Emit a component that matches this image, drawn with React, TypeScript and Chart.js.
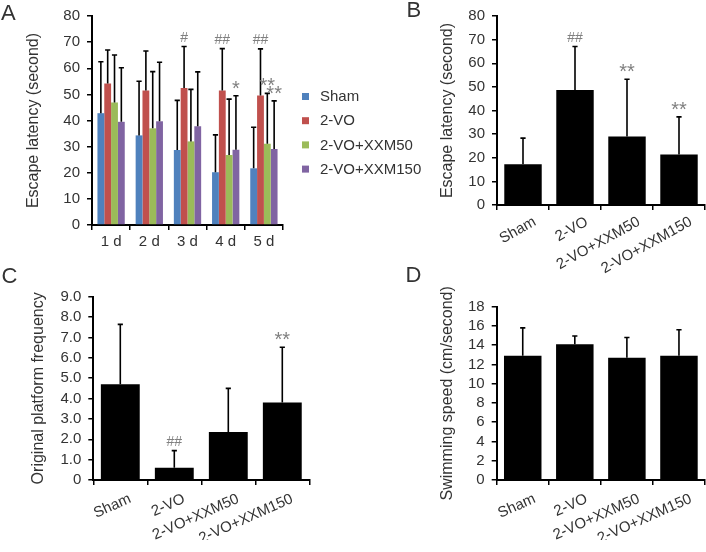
import React, { useEffect, useRef } from 'react';
import { Chart, registerables } from 'chart.js';

Chart.register(...registerables);

const FONT = '"Liberation Sans", Arial, Helvetica, sans-serif';
const TEXT = '#333333';
const MARK = '#808080';

// ---------- Panel A: escape latency per training day ----------
const dayLabels = ['1 d', '2 d', '3 d', '4 d', '5 d'];
const groupLabels = ['Sham', '2-VO', '2-VO+XXM50', '2-VO+XXM150'];
const groupColors = ['#4F81BD', '#C0504D', '#9BBB59', '#8064A2'];

const shamDaily = [42.8, 34.3, 28.7, 20.2, 21.7];
const shamDailySD = [19.7, 20.7, 19.0, 14.3, 15.7];
const twoVODaily = [54.2, 51.5, 52.4, 51.5, 49.6];
const twoVODailySD = [12.8, 15.1, 15.9, 16.0, 17.8];
const xxm50Daily = [46.9, 37.0, 32.0, 26.8, 31.1];
const xxm50DailySD = [18.2, 21.7, 19.9, 21.4, 19.3];
const xxm150Daily = [39.5, 39.7, 37.8, 28.8, 29.1];
const xxm150DailySD = [20.7, 22.6, 20.8, 20.7, 18.4];

const shamDailyMarks = ['', '', '', '', ''];
const twoVODailyMarks = ['', '', '#', '##', '##'];
const xxm50DailyMarks = ['', '', '', '', '**'];
const xxm150DailyMarks = ['', '', '', '*', '**'];

const latencyMax = 80;
const latencyStep = 10;

// ---------- Panel B: escape latency (probe) ----------
const probeLatency = [17.3, 48.7, 29.0, 21.4];
const probeLatencySD = [11.0, 18.4, 24.2, 15.9];
const probeLatencyMarks = ['', '##', '**', '**'];

// ---------- Panel C: original platform frequency ----------
const platformFreq = [4.7, 0.6, 2.36, 3.8];
const platformFreqSD = [2.94, 0.84, 2.14, 2.72];
const platformFreqMarks = ['', '##', '', '**'];
const freqMax = 9;
const freqStep = 1;

// ---------- Panel D: swimming speed ----------
const swimSpeed = [12.9, 14.1, 12.7, 12.9];
const swimSpeedSD = [2.9, 0.85, 2.1, 2.7];
const swimSpeedMarks = ['', '', '', ''];
const speedMax = 18;
const speedStep = 2;

// ---------- plugins ----------
const errorBarPlugin = {
  id: 'errorBars',
  afterDatasetsDraw(chart: any) {
    const ctx = chart.ctx;
    const yScale = chart.scales.y;
    chart.data.datasets.forEach((ds: any, di: number) => {
      const meta = chart.getDatasetMeta(di);
      if (!ds.sd) return;
      meta.data.forEach((bar: any, i: number) => {
        const v = ds.data[i];
        const top = yScale.getPixelForValue(v + ds.sd[i]);
        const x = bar.x;
        ctx.save();
        ctx.strokeStyle = '#000';
        ctx.lineWidth = 1.6;
        ctx.beginPath();
        ctx.moveTo(x, bar.y);
        ctx.lineTo(x, top);
        ctx.moveTo(x - 2.6, top);
        ctx.lineTo(x + 2.6, top);
        ctx.stroke();
        const mark = ds.marks ? ds.marks[i] : '';
        if (mark) {
          const star = mark.indexOf('*') >= 0;
          ctx.fillStyle = MARK;
          ctx.font = star ? `20px ${FONT}` : `14px ${FONT}`;
          ctx.textAlign = 'center';
          ctx.textBaseline = 'alphabetic';
          ctx.fillText(mark, x, star ? top - 1 : top - 4.5);
        }
        ctx.restore();
      });
    });
  },
};

const letterPlugin = {
  id: 'panelLetter',
  afterDraw(chart: any, _args: any, opts: any) {
    if (!opts || !opts.text) return;
    const ctx = chart.ctx;
    ctx.save();
    ctx.fillStyle = TEXT;
    ctx.font = `22px ${FONT}`;
    ctx.textAlign = 'left';
    ctx.textBaseline = 'alphabetic';
    ctx.fillText(opts.text, opts.x, opts.y);
    ctx.restore();
  },
};

const sideLegendPlugin = {
  id: 'sideLegend',
  afterDraw(chart: any) {
    const { ctx, chartArea } = chart;
    ctx.save();
    chart.data.datasets.forEach((ds: any, i: number) => {
      const cy = chartArea.top + 80.5 + i * 24.2;
      ctx.fillStyle = ds.backgroundColor;
      ctx.fillRect(chartArea.right + 19, cy - 3.5, 7, 7);
      ctx.fillStyle = TEXT;
      ctx.font = `15px ${FONT}`;
      ctx.textAlign = 'left';
      ctx.textBaseline = 'middle';
      ctx.fillText(ds.label, chartArea.right + 37, cy + 0.5);
    });
    ctx.restore();
  },
};

// ---------- axis builders ----------
function yAxis(max: number, step: number, title: string, width: number, titlePad: number, fmt?: (v: number) => string) {
  return {
    min: 0,
    max,
    ticks: {
      stepSize: step,
      autoSkip: false,
      font: { family: FONT, size: 15 },
      color: TEXT,
      padding: 7,
      ...(fmt ? { callback: (v: any) => fmt(Number(v)) } : {}),
    },
    grid: { display: true, drawOnChartArea: false, drawTicks: true, tickLength: 5, color: '#000', lineWidth: 1.5 },
    border: { display: true, color: '#000', width: 2 },
    title: { display: true, text: title, font: { family: FONT, size: 16 }, color: TEXT, padding: { top: titlePad, bottom: 0 } },
    afterFit: (s: any) => {
      s.width = width;
    },
  };
}

function xAxis(height: number, rotation: number, labelOffset: number, pad: number) {
  return {
    ticks: {
      font: { family: FONT, size: 15 },
      color: TEXT,
      padding: pad,
      autoSkip: false,
      minRotation: rotation,
      maxRotation: rotation,
      labelOffset,
    },
    grid: { display: true, drawOnChartArea: false, drawTicks: true, tickLength: 5, color: '#000', lineWidth: 1.5, offset: true },
    border: { display: true, color: '#000', width: 2 },
    afterFit: (s: any) => {
      s.height = height;
    },
  };
}

function baseOptions(padding: any, letter: any, x: any, y: any) {
  return {
    responsive: false,
    animation: false,
    devicePixelRatio: 1,
    layout: { padding },
    plugins: {
      legend: { display: false },
      tooltip: { enabled: false },
      panelLetter: letter,
    },
    scales: { x, y },
  };
}

function makeA() {
  const values = [shamDaily, twoVODaily, xxm50Daily, xxm150Daily];
  const sds = [shamDailySD, twoVODailySD, xxm50DailySD, xxm150DailySD];
  const marks = [shamDailyMarks, twoVODailyMarks, xxm50DailyMarks, xxm150DailyMarks];
  return {
    type: 'bar',
    data: {
      labels: dayLabels,
      datasets: groupLabels.map((g, k) => ({
        label: g,
        data: values[k],
        sd: sds[k],
        marks: marks[k],
        backgroundColor: groupColors[k],
        borderWidth: 0,
        categoryPercentage: 0.715,
        barPercentage: 1,
      })),
    },
    options: baseOptions(
      { left: 0, top: 13, right: 147, bottom: 10 },
      { text: 'A', x: 1, y: 20 },
      xAxis(35, 0, 0, 3),
      yAxis(latencyMax, latencyStep, 'Escape latency (second)', 92, 23.5)
    ),
    plugins: [errorBarPlugin, letterPlugin, sideLegendPlugin],
  };
}

function makeSingle(values: number[], sd: number[], marks: string[], yAx: any, xAx: any, padding: any, letter: any) {
  return {
    type: 'bar',
    data: {
      labels: groupLabels,
      datasets: [
        {
          label: 'value',
          data: values,
          sd,
          marks,
          backgroundColor: '#000000',
          borderWidth: 0,
          categoryPercentage: 0.72,
          barPercentage: 1,
        },
      ],
    },
    options: baseOptions(padding, letter, xAx, yAx),
    plugins: [errorBarPlugin, letterPlugin],
  };
}

function makeB() {
  return makeSingle(
    probeLatency,
    probeLatencySD,
    probeLatencyMarks,
    yAxis(latencyMax, latencyStep, 'Escape latency (second)', 67, 7.9),
    xAxis(70, 29, 12, 3),
    { left: 30, top: 12, right: 1, bottom: 10 },
    { text: 'B', x: 6.5, y: 17 }
  );
}

function makeC() {
  return makeSingle(
    platformFreq,
    platformFreqSD,
    platformFreqMarks,
    yAxis(freqMax, freqStep, 'Original platform frequency', 93.3, 28.9, (v) => (v === 0 ? '0' : v.toFixed(1))),
    xAxis(60, 24, 10, 5),
    { left: 0, top: 34.7, right: 90.7, bottom: 12 },
    { text: 'C', x: 1.5, y: 21 }
  );
}

function makeD() {
  return makeSingle(
    swimSpeed,
    swimSpeedSD,
    swimSpeedMarks,
    yAxis(speedMax, speedStep, 'Swimming speed (cm/second)', 66.7, 7.9),
    xAxis(60, 24, 12, 5),
    { left: 30, top: 44.7, right: 1, bottom: 12 },
    { text: 'D', x: 5.5, y: 20 }
  );
}

function Panel({ make, left, top, width, height }: { make: () => any; left: number; top: number; width: number; height: number }) {
  const ref = useRef<HTMLCanvasElement>(null);
  useEffect(() => {
    const chart = new Chart(ref.current as HTMLCanvasElement, make());
    return () => chart.destroy();
  }, []);
  return (
    <canvas
      ref={ref}
      width={width}
      height={height}
      style={{ position: 'absolute', left, top, width, height, display: 'block' }}
    />
  );
}

export default function App() {
  return (
    <div style={{ position: 'absolute', left: 0, top: 0, width: 706, height: 552, background: '#ffffff', overflow: 'hidden' }}>
      <Panel make={makeA} left={0} top={0} width={430} height={270} />
      <Panel make={makeB} left={400} top={0} width={306} height={285} />
      <Panel make={makeC} left={0} top={262} width={400} height={290} />
      <Panel make={makeD} left={400} top={262} width={306} height={290} />
    </div>
  );
}
